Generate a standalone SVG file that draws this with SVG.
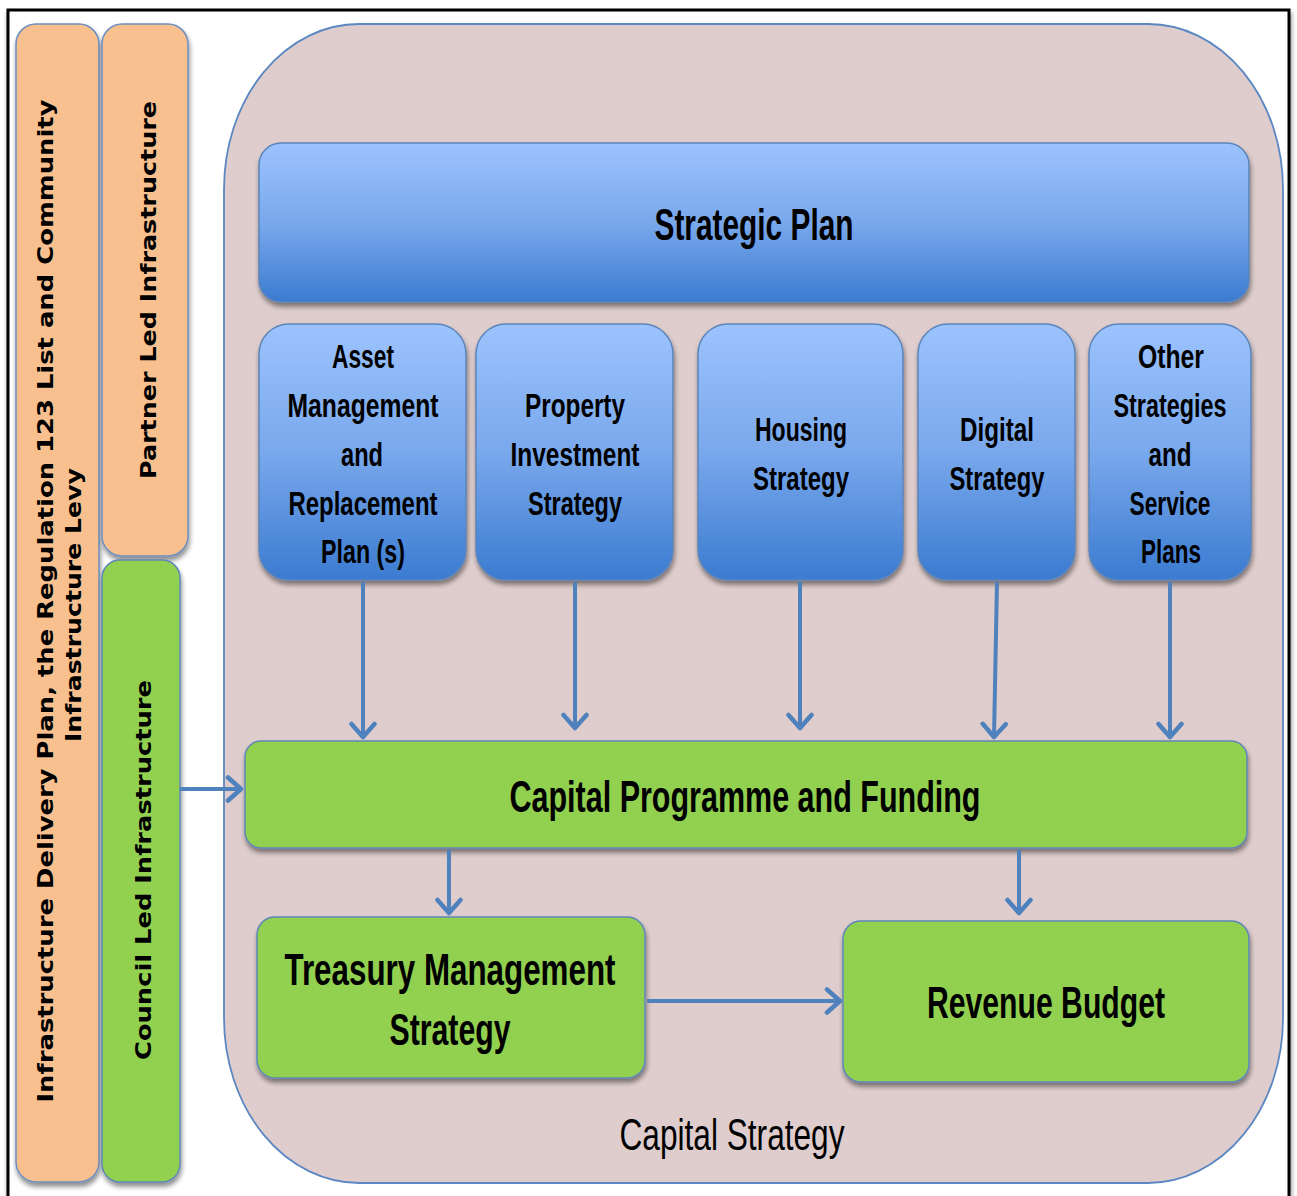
<svg xmlns="http://www.w3.org/2000/svg" width="1297" height="1196" viewBox="0 0 1297 1196">
  <style>
    .frame { fill: #ffffff; stroke: #000000; stroke-width: 3; }
    .container { fill: #dfcdcd; stroke: #5b87c2; stroke-width: 1.8; }
    .orange { fill: #f9c08f; stroke: #6d8fbf; stroke-width: 1.5; }
    .green { fill: #92d050; stroke: #5f86b8; stroke-width: 1.5; }
    .blue { fill: url(#blueGrad); stroke: #5b84bb; stroke-width: 1.5; }
    .side { font-family: "DejaVu Sans", Verdana, sans-serif; font-weight: bold; font-size: 21px; fill: #000; text-anchor: middle; }
    .lbl { font-family: "Liberation Sans", Arial, sans-serif; font-weight: bold; fill: #000; text-anchor: middle; }
    .sub { font-size: 33px; }
    .big { font-size: 45px; }
    .cap { font-family: "Liberation Sans", Arial, sans-serif; font-size: 44px; fill: #000; text-anchor: middle; }
    .conn { stroke: #4f81bd; stroke-width: 4; fill: none; marker-end: url(#arrow); }
  </style>
  <defs>
    <linearGradient id="blueGrad" x1="0" y1="0" x2="0" y2="1">
      <stop offset="0" stop-color="#9cc3fd"/>
      <stop offset="0.5" stop-color="#79a8ec"/>
      <stop offset="1" stop-color="#3b7bd0"/>
    </linearGradient>
    <filter id="shadow" x="-10%" y="-10%" width="120%" height="125%">
      <feGaussianBlur in="SourceAlpha" stdDeviation="2.5"/>
      <feOffset dx="1" dy="4" result="b"/>
      <feComponentTransfer><feFuncA type="linear" slope="0.45"/></feComponentTransfer>
      <feMerge><feMergeNode/><feMergeNode in="SourceGraphic"/></feMerge>
    </filter>
    <marker id="arrow" viewBox="-16 -14 19 28" markerWidth="19" markerHeight="28" refX="0" refY="0" orient="auto" markerUnits="userSpaceOnUse">
      <path d="M-13,-11.5 L0,0 L-13,11.5" fill="none" stroke="#4f81bd" stroke-width="4.5" stroke-linecap="round" stroke-linejoin="round"/>
    </marker>
  </defs>

  <!-- page frame -->
  <rect x="0" y="0" width="1297" height="1196" fill="#ffffff"/>
  <rect class="frame" x="8" y="10" width="1281" height="1200" filter="url(#shadow)"/>

  <!-- side bands -->
  <g id="idp-band">
    <rect class="orange" x="16" y="24" width="83" height="1158" rx="20" filter="url(#shadow)"/>
    <text class="side" transform="translate(53,601) rotate(-90)" textLength="1003" lengthAdjust="spacingAndGlyphs">Infrastructure Delivery Plan, the Regulation 123 List and Community</text>
    <text class="side" transform="translate(81,605) rotate(-90)" textLength="274" lengthAdjust="spacingAndGlyphs">Infrastructure Levy</text>
  </g>
  <g id="partner-led">
    <rect class="orange" x="102" y="24" width="86" height="532" rx="20" filter="url(#shadow)"/>
    <text class="side" transform="translate(156,290) rotate(-90)" textLength="378" lengthAdjust="spacingAndGlyphs">Partner Led Infrastructure</text>
  </g>
  <g id="council-led">
    <rect class="green" x="102" y="560" width="78" height="622" rx="18" filter="url(#shadow)"/>
    <text class="side" transform="translate(151,870) rotate(-90)" textLength="380" lengthAdjust="spacingAndGlyphs">Council Led Infrastructure</text>
  </g>

  <!-- capital strategy container -->
  <g id="capital-strategy">
    <rect class="container" x="224" y="24" width="1059" height="1159" rx="135" ry="165"/>
    <text class="cap" x="732" y="1150" textLength="225" lengthAdjust="spacingAndGlyphs">Capital Strategy</text>
  </g>

  <g id="strategic-plan">
    <rect class="blue" x="259" y="143" width="990" height="159" rx="22" filter="url(#shadow)"/>
    <text class="lbl big" x="754" y="240" textLength="199" lengthAdjust="spacingAndGlyphs">Strategic Plan</text>
  </g>

  <g id="asset-management">
    <rect class="blue" x="259" y="324" width="207" height="256" rx="30" filter="url(#shadow)"/>
    <text class="lbl sub" x="363" y="368" textLength="62" lengthAdjust="spacingAndGlyphs">Asset</text>
    <text class="lbl sub" x="363" y="417" textLength="151" lengthAdjust="spacingAndGlyphs">Management</text>
    <text class="lbl sub" x="362" y="466" textLength="42" lengthAdjust="spacingAndGlyphs">and</text>
    <text class="lbl sub" x="363" y="515" textLength="149" lengthAdjust="spacingAndGlyphs">Replacement</text>
    <text class="lbl sub" x="363" y="563" textLength="84" lengthAdjust="spacingAndGlyphs">Plan (s)</text>
  </g>

  <g id="property-investment">
    <rect class="blue" x="476" y="324" width="197" height="256" rx="30" filter="url(#shadow)"/>
    <text class="lbl sub" x="575" y="417" textLength="100" lengthAdjust="spacingAndGlyphs">Property</text>
    <text class="lbl sub" x="575" y="466" textLength="129" lengthAdjust="spacingAndGlyphs">Investment</text>
    <text class="lbl sub" x="575" y="515" textLength="94" lengthAdjust="spacingAndGlyphs">Strategy</text>
  </g>

  <g id="housing-strategy">
    <rect class="blue" x="698" y="324" width="205" height="256" rx="30" filter="url(#shadow)"/>
    <text class="lbl sub" x="801" y="441" textLength="92" lengthAdjust="spacingAndGlyphs">Housing</text>
    <text class="lbl sub" x="801" y="490" textLength="96" lengthAdjust="spacingAndGlyphs">Strategy</text>
  </g>

  <g id="digital-strategy">
    <rect class="blue" x="918" y="324" width="157" height="256" rx="30" filter="url(#shadow)"/>
    <text class="lbl sub" x="997" y="441" textLength="74" lengthAdjust="spacingAndGlyphs">Digital</text>
    <text class="lbl sub" x="997" y="490" textLength="95" lengthAdjust="spacingAndGlyphs">Strategy</text>
  </g>

  <g id="other-strategies">
    <rect class="blue" x="1089" y="324" width="162" height="256" rx="30" filter="url(#shadow)"/>
    <text class="lbl sub" x="1171" y="368" textLength="66" lengthAdjust="spacingAndGlyphs">Other</text>
    <text class="lbl sub" x="1170" y="417" textLength="113" lengthAdjust="spacingAndGlyphs">Strategies</text>
    <text class="lbl sub" x="1170" y="466" textLength="43" lengthAdjust="spacingAndGlyphs">and</text>
    <text class="lbl sub" x="1170" y="515" textLength="81" lengthAdjust="spacingAndGlyphs">Service</text>
    <text class="lbl sub" x="1171" y="563" textLength="60" lengthAdjust="spacingAndGlyphs">Plans</text>
  </g>

  <g id="capital-programme">
    <rect class="green" x="245" y="741" width="1002" height="107" rx="16" filter="url(#shadow)"/>
    <text class="lbl big" x="745" y="812" textLength="471" lengthAdjust="spacingAndGlyphs">Capital Programme and Funding</text>
  </g>

  <g id="treasury-management">
    <rect class="green" x="257" y="917" width="388" height="161" rx="18" filter="url(#shadow)"/>
    <text class="lbl big" x="450" y="985" textLength="331" lengthAdjust="spacingAndGlyphs">Treasury Management</text>
    <text class="lbl big" x="450" y="1045" textLength="121" lengthAdjust="spacingAndGlyphs">Strategy</text>
  </g>

  <g id="revenue-budget">
    <rect class="green" x="843" y="921" width="406" height="161" rx="18" filter="url(#shadow)"/>
    <text class="lbl big" x="1046" y="1018" textLength="238" lengthAdjust="spacingAndGlyphs">Revenue Budget</text>
  </g>

  <!-- connectors -->
  <g id="connectors">
    <line class="conn" x1="363" y1="582" x2="363" y2="737"/>
    <line class="conn" x1="575" y1="582" x2="575" y2="728"/>
    <line class="conn" x1="800" y1="582" x2="800" y2="728"/>
    <line class="conn" x1="997" y1="582" x2="994" y2="737"/>
    <line class="conn" x1="1170" y1="582" x2="1170" y2="737"/>
    <line class="conn" x1="180" y1="789" x2="241" y2="789"/>
    <line class="conn" x1="449" y1="850" x2="449" y2="913"/>
    <line class="conn" x1="1019" y1="850" x2="1019" y2="913"/>
    <line class="conn" x1="647" y1="1001" x2="840" y2="1001"/>
  </g>
</svg>
